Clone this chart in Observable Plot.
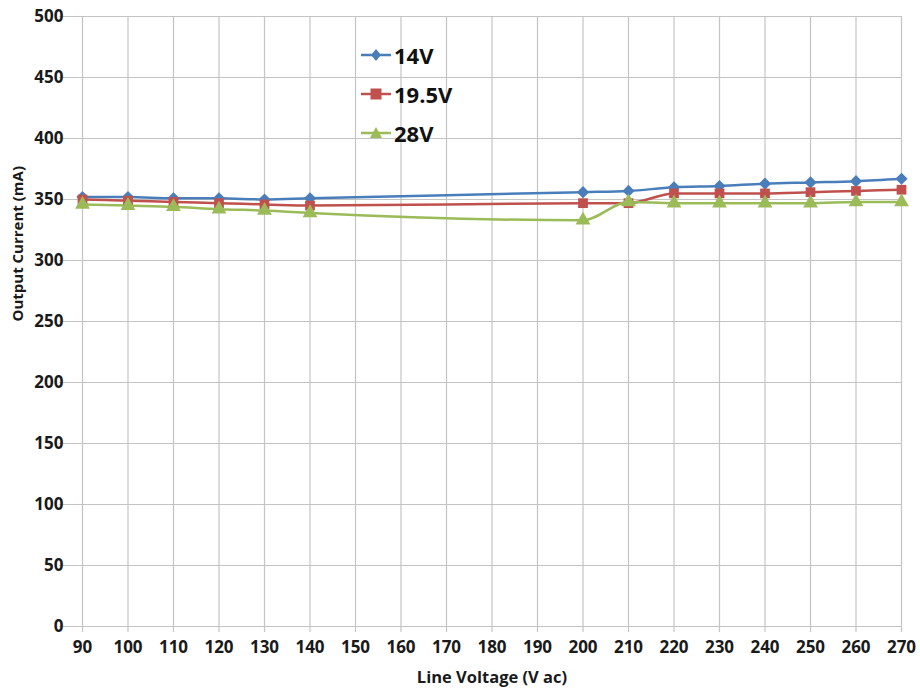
<!DOCTYPE html>
<html>
<head>
<meta charset="utf-8">
<script src="https://cdn.jsdelivr.net/npm/d3@7"></script>
<script src="https://cdn.jsdelivr.net/npm/@observablehq/plot@0.6"></script>
<style>
  html, body { margin: 0; padding: 0; background: #fff; }
  #wrap { position: relative; width: 920px; height: 694px; font-family: "Open Sans", sans-serif; }
  #legend { position: absolute; left: 360px; top: 35px; font-weight: 700; font-size: 22px; color: #111; }
  #legend .row { display: flex; align-items: center; height: 39px; }
  #legend svg { margin-right: 2px; }
</style>
</head>
<body>
<div id="wrap"><div id="legend"></div></div>
<script>
const voltages = [90, 100, 110, 120, 130, 140, 200, 210, 220, 230, 240, 250, 260, 270];
const s14 = [352, 352, 351, 351, 350, 351, 356, 357, 360, 361, 363, 364, 365, 367];
const s195 = [350, 349, 348, 347, 346, 345, 347, 347, 355, 355, 355, 356, 357, 358];
const s28 = [346, 345, 344, 342, 341, 339, 333, 348, 347, 347, 347, 347, 348, 348];
const seriesNames = ["14V", "19.5V", "28V"];
const seriesColors = ["#4a7ebb", "#c0504d", "#9bbb59"];
const seriesSymbols = ["diamond2", "square", "triangle"];
const xTicks = d3.range(90, 271, 10);
const yTicks = d3.range(0, 501, 50);

const allValues = [s14, s195, s28];
const data = [];
allValues.forEach((vals, i) => vals.forEach((v, j) => data.push({series: seriesNames[i], x: voltages[j], y: v})));

const font = "Open Sans, sans-serif";
const chart = Plot.plot({
  width: 920,
  height: 694,
  marginLeft: 82,
  marginRight: 19,
  marginTop: 16,
  marginBottom: 68,
  style: {fontFamily: font, fontSize: "17px", fontWeight: 700, color: "#1a1a1a", background: "white"},
  x: {domain: [90, 270], ticks: xTicks, tickFormat: d => d, label: null},
  y: {domain: [0, 500], ticks: yTicks, tickFormat: d => d, label: null},
  color: {domain: seriesNames, range: seriesColors},
  symbol: {domain: seriesNames, range: seriesSymbols},
  marks: [
    Plot.ruleX(xTicks, {x: d => d, y1: -5, y2: 500, stroke: "#c4c4c4", strokeWidth: 1.2, clip: false}),
    Plot.ruleY(yTicks, {y: d => d, x1: 85, x2: 270, stroke: "#c4c4c4", strokeWidth: 1.2}),
    Plot.axisX({ticks: xTicks, tickSize: 0, tickPadding: 14, tickFormat: d => d, label: null, fontSize: 17, fontWeight: 700}),
    Plot.axisY({ticks: yTicks, tickSize: 0, tickPadding: 19, tickFormat: d => d, label: null, fontSize: 17, fontWeight: 700}),
    Plot.line(data, {x: "x", y: "y", z: "series", stroke: "series", strokeWidth: 2.5, curve: "monotone-x"}),
    Plot.dot(data, {x: "x", y: "y", fill: "series", symbol: "series", r: 5.5, stroke: "none"}),
    Plot.text(["Line Voltage (V ac)"], {frameAnchor: "bottom", dy: 56, text: d => d, fontSize: 16.5, fontWeight: 700}),
    Plot.text(["Output Current (mA)"], {frameAnchor: "left", dx: -64, rotate: -90, text: d => d, fontSize: 15, fontWeight: 700})
  ]
});
document.getElementById("wrap").prepend(chart);

const legend = document.getElementById("legend");
seriesNames.forEach((name, i) => {
  const row = document.createElement("div");
  row.className = "row";
  let sym;
  if (i === 0) sym = '<path d="M16,3 L21,9 L16,15 L11,9 Z" fill="' + seriesColors[i] + '"/>';
  else if (i === 1) sym = '<rect x="10.5" y="3.5" width="11" height="11" fill="' + seriesColors[i] + '"/>';
  else sym = '<path d="M16,3 L22,14 L10,14 Z" fill="' + seriesColors[i] + '"/>';
  row.innerHTML = '<svg width="32" height="18"><line x1="1" y1="9" x2="31" y2="9" stroke="' + seriesColors[i] + '" stroke-width="2.5"/>' + sym + '</svg><span>' + name + '</span>';
  legend.appendChild(row);
});
</script>
</body>
</html>
